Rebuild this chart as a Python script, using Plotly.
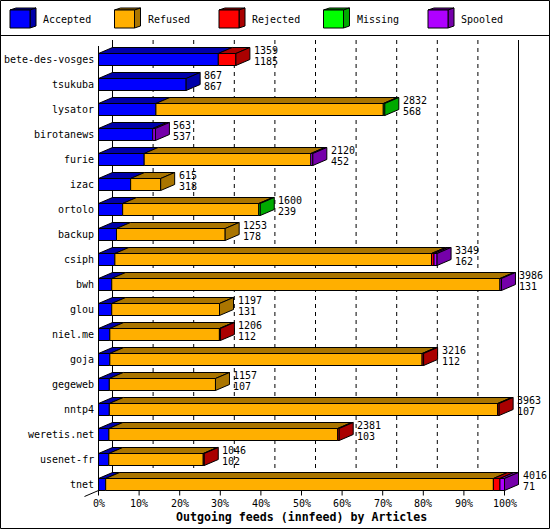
import plotly.graph_objects as go

# ---------------- data ----------------
hosts = ["bete-des-vosges", "tsukuba", "lysator", "birotanews", "furie", "izac",
         "ortolo", "backup", "csiph", "bwh", "glou", "niel.me", "goja", "gegeweb",
         "nntp4", "weretis.net", "usenet-fr", "tnet"]
accepted = [1185, 867, 568, 537, 452, 318, 239, 178, 162, 131, 131, 112, 112, 107, 107, 103, 102, 71]
refused  = [0, 0, 2249, 0, 1648, 297, 1346, 1075, 3132, 3840, 1066, 1084, 3089, 1050, 3841, 2263, 934, 3835]
rejected = [174, 0, 0, 0, 0, 0, 0, 0, 25, 0, 0, 10, 15, 0, 15, 15, 10, 65]
missing  = [0, 0, 15, 0, 0, 0, 15, 0, 0, 0, 0, 0, 0, 0, 0, 0, 0, 0]
spooled  = [0, 0, 0, 26, 20, 0, 0, 0, 30, 15, 0, 0, 0, 0, 0, 0, 0, 45]

series_names = ["Accepted", "Refused", "Rejected", "Missing", "Spooled"]
light_colors = ["#0000FF", "#FFAF00", "#FF0000", "#00FF00", "#AF00FF"]
dark_colors  = ["#0000AA", "#AA7500", "#AA0000", "#00AA00", "#7500AA"]

x_ticks = [0, 10, 20, 30, 40, 50, 60, 70, 80, 90, 100]
x_tick_labels = ["0%", "10%", "20%", "30%", "40%", "50%", "60%", "70%", "80%", "90%", "100%"]
x_title = "Outgoing feeds (innfeed) by Articles"

# ---------------- geometry ----------------
W, H = 550, 530
X0, SX = 98.5, 4.06      # px of 0%, px per %
Y0, SY = 59.5, 25.0      # px of first category centre, px per category
HALF = 6 / SY            # half bar thickness (category units)
DX = 14 / SX             # 3D depth, horizontal (% units)
DY = 6 / SY              # 3D depth, vertical (category units)
FONT = "DejaVu Sans Mono"

series = [accepted, refused, rejected, missing, spooled]
n = len(hosts)
totals = [sum(s[i] for s in series) for i in range(n)]
vmax = max(totals)
pct = [[v / vmax * 100 for v in s] for s in series]


def px_x(p):
    return p / W


def px_y(p):
    return 1 - p / H


fig = go.Figure()
shapes = []
annotations = []

y_front_bot = (n - 1) + HALF
y_back_bot = y_front_bot - DY
y_back_top = (40 - Y0) / SY
y_front_top = y_back_top + DY

# back wall grid lines
for t in x_ticks[1:-1]:
    shapes.append(dict(type="line", xref="x", yref="y", x0=t + DX, x1=t + DX,
                       y0=y_back_top, y1=y_back_bot, layer="below",
                       line=dict(color="black", width=1, dash="4px,4px")))
for t in (x_ticks[0], x_ticks[-1]):
    shapes.append(dict(type="line", xref="x", yref="y", x0=t + DX, x1=t + DX,
                       y0=y_back_top, y1=y_back_bot, layer="below",
                       line=dict(color="black", width=1)))
# front left axis
shapes.append(dict(type="line", xref="x", yref="y", x0=0, x1=0,
                   y0=y_front_top, y1=y_front_bot, line=dict(color="black", width=1)))
# floor diagonal
shapes.append(dict(type="line", xref="x", yref="y", x0=-DX, x1=0,
                   y0=y_front_bot + DY, y1=y_front_bot, line=dict(color="black", width=1)))
# ticks
for t, lab in zip(x_ticks, x_tick_labels):
    shapes.append(dict(type="line", xref="x", yref="y", x0=t, x1=t,
                       y0=y_front_bot, y1=y_front_bot + 5 / SY,
                       line=dict(color="black", width=1)))
    annotations.append(dict(x=t, y=y_front_bot + 13 / SY, xref="x", yref="y",
                            text=lab, showarrow=False,
                            xanchor="center", yanchor="middle",
                            font=dict(family=FONT, size=10, color="black")))

# bars: front faces via Bar traces
ypos = list(range(n))
bases = [[0.0] * n for _ in series]
for i in range(n):
    acc = 0.0
    for k in range(len(series)):
        bases[k][i] = acc
        acc += pct[k][i]

for k, name in enumerate(series_names):
    fig.add_trace(go.Bar(
        orientation="h", y=ypos,
        x=[p if p > 0 else None for p in pct[k]],
        base=bases[k], width=2 * HALF, name=name,
        marker=dict(color=light_colors[k], line=dict(color="black", width=1)),
        showlegend=False, hoverinfo="skip"))

# top and side faces
for i in range(n):
    c = ypos[i]
    last_k = None
    for k in range(len(series)):
        p = pct[k][i]
        if p <= 0:
            continue
        x0 = bases[k][i]
        x1 = x0 + p
        path = (f"M {x0},{c - HALF} L {x1},{c - HALF} L {x1 + DX},{c - HALF - DY} "
                f"L {x0 + DX},{c - HALF - DY} Z")
        shapes.append(dict(type="path", xref="x", yref="y", path=path,
                           fillcolor=dark_colors[k], line=dict(color="black", width=1)))
        last_k = k
    xe = bases[last_k][i] + pct[last_k][i]
    path = (f"M {xe},{c + HALF} L {xe},{c - HALF} L {xe + DX},{c - HALF - DY} "
            f"L {xe + DX},{c + HALF - DY} Z")
    shapes.append(dict(type="path", xref="x", yref="y", path=path,
                       fillcolor=dark_colors[last_k], line=dict(color="black", width=1)))
    # value labels
    annotations.append(dict(x=xe + DX, y=c, xref="x", yref="y", text=str(totals[i]),
                            showarrow=False, xanchor="left", yanchor="middle",
                            xshift=2, yshift=9.5,
                            font=dict(family=FONT, size=10, color="black")))
    annotations.append(dict(x=xe + DX, y=c, xref="x", yref="y", text=str(accepted[i]),
                            showarrow=False, xanchor="left", yanchor="middle",
                            xshift=2, yshift=-2,
                            font=dict(family=FONT, size=10, color="black")))
    # category label
    annotations.append(dict(x=0, y=c, xref="x", yref="y", text=hosts[i],
                            showarrow=False, xanchor="right", yanchor="middle",
                            xshift=-3, font=dict(family=FONT, size=10, color="black")))

# axis title
annotations.append(dict(x=50, y=(517 - Y0) / SY, xref="x", yref="y",
                        text="<b>" + x_title + "</b>", showarrow=False,
                        xanchor="center", yanchor="middle",
                        font=dict(family=FONT, size=11.6, color="black")))

# legend (drawn in paper space)
for k, name in enumerate(series_names):
    lx = 10 + 104.5 * k
    shapes.append(dict(type="path", xref="paper", yref="paper",
                       path=(f"M {px_x(lx)},{px_y(10)} L {px_x(lx + 6)},{px_y(8)} "
                             f"L {px_x(lx + 26)},{px_y(8)} L {px_x(lx + 20)},{px_y(10)} Z"),
                       fillcolor=dark_colors[k], line=dict(color="black", width=1)))
    shapes.append(dict(type="path", xref="paper", yref="paper",
                       path=(f"M {px_x(lx + 20)},{px_y(10)} L {px_x(lx + 26)},{px_y(8)} "
                             f"L {px_x(lx + 26)},{px_y(26)} L {px_x(lx + 20)},{px_y(28)} Z"),
                       fillcolor=dark_colors[k], line=dict(color="black", width=1)))
    shapes.append(dict(type="rect", xref="paper", yref="paper",
                       x0=px_x(lx), x1=px_x(lx + 20), y0=px_y(28), y1=px_y(10),
                       fillcolor=light_colors[k], line=dict(color="black", width=1)))
    annotations.append(dict(x=px_x(lx + 31), y=px_y(19.5), xref="paper", yref="paper",
                            text=name, showarrow=False, xanchor="left", yanchor="middle",
                            font=dict(family=FONT, size=10, color="black")))

# frame and legend separator
shapes.append(dict(type="rect", xref="paper", yref="paper",
                   x0=px_x(0.5), x1=px_x(549.5), y0=px_y(528.5), y1=px_y(0.5),
                   line=dict(color="black", width=1)))
shapes.append(dict(type="line", xref="paper", yref="paper",
                   x0=px_x(0.5), x1=px_x(549.5), y0=px_y(35.5), y1=px_y(35.5),
                   line=dict(color="black", width=1)))

fig.update_layout(
    width=W, height=H, autosize=False,
    margin=dict(l=0, r=0, t=0, b=0, pad=0),
    paper_bgcolor="white", plot_bgcolor="white",
    barmode="overlay", showlegend=False,
    xaxis=dict(visible=False, range=[(0 - X0) / SX, (W - X0) / SX], fixedrange=True),
    yaxis=dict(visible=False, range=[(H - Y0) / SY, (0 - Y0) / SY], fixedrange=True),
    shapes=shapes, annotations=annotations,
)

fig.write_html("out.html", config={"displayModeBar": False},
               post_script="document.body.style.margin='0';document.body.style.overflow='hidden';")
